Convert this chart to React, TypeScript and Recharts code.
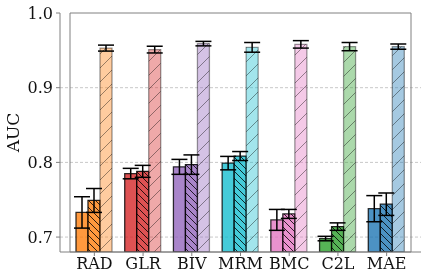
import React from "react";
import {
  BarChart,
  Bar,
  XAxis,
  YAxis,
  CartesianGrid,
  ReferenceArea,
  ErrorBar,
  Cell,
} from "recharts";

const categories = ["RAD", "GLR", "BIV", "MRM", "BMC", "C2L", "MAE"];
const baseAuc = [0.733, 0.785, 0.794, 0.799, 0.723, 0.698, 0.738];
const baseErr = [0.021, 0.007, 0.01, 0.009, 0.014, 0.003, 0.0175];
const hatchAuc = [0.749, 0.788, 0.797, 0.8085, 0.731, 0.714, 0.744];
const hatchErr = [0.016, 0.008, 0.013, 0.006, 0.006, 0.005, 0.015];
const lightAuc = [0.953, 0.951, 0.959, 0.954, 0.958, 0.955, 0.955];
const lightErr = [0.004, 0.0045, 0.003, 0.0065, 0.005, 0.0055, 0.0035];
const yTicks = [0.7, 0.8, 0.9, 1.0];
const gridValues = [0.7, 0.8, 0.9];

const COLORS = ["#ff7f0e", "#d62728", "#9467bd", "#17becf", "#e377c2", "#2ca02c", "#1f77b4"];
const SPINE = "#808080";
const FONT = "'DejaVu Serif', serif";

const data = categories.map((name, i) => ({
  name,
  base: baseAuc[i],
  baseErr: baseErr[i],
  hatch: hatchAuc[i],
  hatchErr: hatchErr[i],
  light: lightAuc[i],
  lightErr: lightErr[i],
}));

// "\\" hatch for the middle bar, "/" for the pale one
function HatchDefs() {
  const back = 7;
  const fwd = 14;
  return (
    <defs>
      {COLORS.map((c, i) => (
        <pattern key={"b" + i} id={`back-${i}`} width={back} height={back} patternUnits="userSpaceOnUse">
          <rect width={back} height={back} fill={c} fillOpacity={0.8} />
          <path
            d={`M-1,${back - 1} l2,2 M0,0 l${back},${back} M${back - 1},-1 l2,2`}
            stroke="#000"
            strokeOpacity={0.8}
            strokeWidth={1}
          />
        </pattern>
      ))}
      {COLORS.map((c, i) => (
        <pattern key={"f" + i} id={`fwd-${i}`} width={fwd} height={fwd} patternUnits="userSpaceOnUse">
          <rect width={fwd} height={fwd} fill={c} fillOpacity={0.4} />
          <path
            d={`M-1,1 l2,-2 M0,${fwd} l${fwd},-${fwd} M${fwd - 1},${fwd + 1} l2,-2`}
            stroke="#000"
            strokeOpacity={0.4}
            strokeWidth={1}
          />
        </pattern>
      ))}
    </defs>
  );
}

function AxisTitle(props: any) {
  const vb = props.viewBox || {};
  const cx = vb.x + 12.5;
  const cy = vb.y + vb.height / 2;
  return (
    <text
      x={cx}
      y={cy}
      dy="0.36em"
      textAnchor="middle"
      transform={`rotate(-90, ${cx}, ${cy})`}
      fontSize={17}
      fill="#111"
      fontFamily={FONT}
    >
      AUC
    </text>
  );
}

export default function App() {
  return (
    <div style={{ position: "fixed", left: 0, top: 0 }}>
      <BarChart
        width={428}
        height={280}
        data={data}
        margin={{ top: 13, right: 7, bottom: 0, left: 0 }}
        barGap={0}
        style={{ fontFamily: FONT }}
      >
        <HatchDefs />
        <CartesianGrid
          vertical={false}
          horizontalValues={gridValues}
          stroke="#c8c8c8"
          strokeDasharray="3 2"
        />
        <XAxis
          dataKey="name"
          height={28}
          padding={{ left: 10, right: 10 }}
          tick={{ fill: "#111", fontSize: 16, fontFamily: FONT }}
          tickSize={4}
          tickMargin={2}
          stroke={SPINE}
        />
        <YAxis
          width={60}
          domain={[0.68, 1.0]}
          ticks={yTicks}
          allowDataOverflow
          tickFormatter={(v) => Number(v).toFixed(1)}
          tick={{ fill: "#111", fontSize: 16, fontFamily: FONT }}
          tickSize={4}
          tickMargin={3}
          stroke={SPINE}
          label={<AxisTitle />}
        />
        <ReferenceArea
          y1={0.68}
          y2={1.0}
          fill="none"
          fillOpacity={0}
          stroke={SPINE}
          strokeWidth={1}
          ifOverflow="visible"
        />
        <Bar dataKey="base" barSize={12} stroke="#000" strokeOpacity={0.8} strokeWidth={1.3} isAnimationActive={false}>
          {data.map((d, i) => (
            <Cell key={d.name} fill={COLORS[i]} fillOpacity={0.8} />
          ))}
          <ErrorBar dataKey="baseErr" direction="y" width={8} stroke="#000" strokeWidth={1.5} />
        </Bar>
        <Bar dataKey="hatch" barSize={12} stroke="#000" strokeOpacity={0.85} strokeWidth={1.3} isAnimationActive={false}>
          {data.map((d, i) => (
            <Cell key={d.name} fill={`url(#back-${i})`} />
          ))}
          <ErrorBar dataKey="hatchErr" direction="y" width={8} stroke="#000" strokeWidth={1.5} />
        </Bar>
        <Bar dataKey="light" barSize={12} stroke="#000" strokeOpacity={0.4} strokeWidth={1.3} isAnimationActive={false}>
          {data.map((d, i) => (
            <Cell key={d.name} fill={`url(#fwd-${i})`} />
          ))}
          <ErrorBar dataKey="lightErr" direction="y" width={8} stroke="#000" strokeWidth={1.5} />
        </Bar>
      </BarChart>
    </div>
  );
}
